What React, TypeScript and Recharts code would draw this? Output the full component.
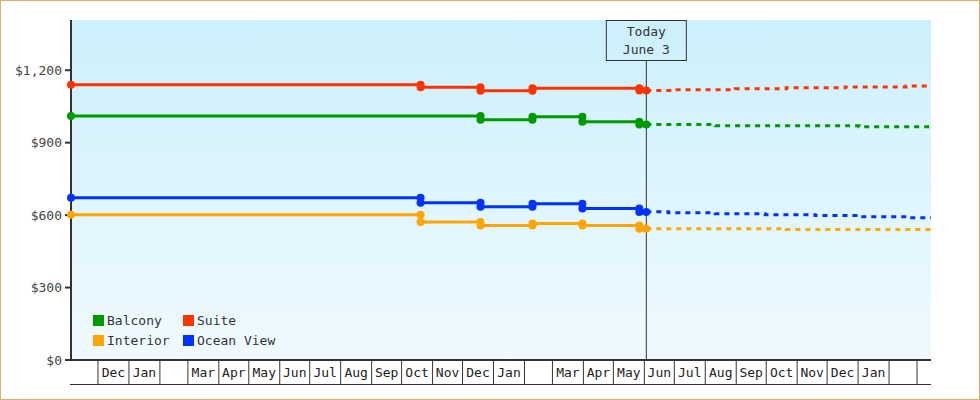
import React from 'react';
import {
  ComposedChart,
  Line,
  XAxis,
  YAxis,
  CartesianGrid,
  ReferenceLine
} from 'recharts';

document.body.style.margin = '0';

const FONT = '"DejaVu Sans Mono", monospace';

// day number from an ISO date
const d = (s: string) => Date.parse(s + 'T00:00:00Z') / 86400000;

const START = d('2012-11-04');
const END = d('2015-03-15');
const TODAY = d('2014-06-03');

// month boundaries shown as cells under the plot
const MONTH_STARTS: number[] = [];
for (let i = 0; i < 28; i++) MONTH_STARTS.push(Date.UTC(2012, 11 + i, 1) / 86400000);

const MONTH_LABELS = [
  'Dec', 'Jan', '', 'Mar', 'Apr', 'May', 'Jun', 'Jul', 'Aug', 'Sep', 'Oct', 'Nov',
  'Dec', 'Jan', '', 'Mar', 'Apr', 'May', 'Jun', 'Jul', 'Aug', 'Sep', 'Oct', 'Nov',
  'Dec', 'Jan', ''
];
const MID_TICKS = MONTH_LABELS.map((_, i) => (MONTH_STARTS[i] + MONTH_STARTS[i + 1]) / 2);

const Y_TICKS = [0, 300, 600, 900, 1200];

// price changes: [date, new price]
const SUITE_PAST: [string, number][] = [
  ['2012-11-04', 1140], ['2013-10-20', 1130], ['2013-12-19', 1115], ['2014-02-09', 1125], ['2014-05-27', 1116]
];
const BALCONY_PAST: [string, number][] = [
  ['2012-11-04', 1010], ['2013-12-19', 995], ['2014-02-09', 1007], ['2014-03-31', 987], ['2014-05-27', 975]
];
const OCEAN_PAST: [string, number][] = [
  ['2012-11-04', 672], ['2013-10-20', 651], ['2013-12-19', 635], ['2014-02-09', 647], ['2014-03-31', 627], ['2014-05-27', 613]
];
const INTERIOR_PAST: [string, number][] = [
  ['2012-11-04', 602], ['2013-10-20', 571], ['2013-12-19', 557], ['2014-02-09', 565], ['2014-03-31', 557], ['2014-05-27', 544]
];

const SUITE_FORECAST: [string, number][] = [
  ['2014-06-03', 1116], ['2014-07-02', 1119], ['2014-08-31', 1123], ['2014-10-21', 1127], ['2014-12-19', 1131], ['2015-02-18', 1135]
];
const BALCONY_FORECAST: [string, number][] = [
  ['2014-06-03', 975], ['2014-08-11', 970], ['2015-01-02', 966]
];
const OCEAN_FORECAST: [string, number][] = [
  ['2014-06-03', 614], ['2014-06-25', 610], ['2014-08-11', 606], ['2014-09-30', 602], ['2014-11-19', 598], ['2015-01-02', 593], ['2015-02-19', 589]
];
const INTERIOR_FORECAST: [string, number][] = [
  ['2014-06-03', 544], ['2014-10-21', 540]
];

const pastPoints = (changes: [string, number][]) => {
  const pts: { day: number; v: number }[] = [];
  changes.forEach(([date, v], i) => {
    if (i > 0) pts.push({ day: d(date), v: changes[i - 1][1] });
    pts.push({ day: d(date), v });
  });
  pts.push({ day: TODAY, v: changes[changes.length - 1][1] });
  return pts;
};

const forecastPoints = (changes: [string, number][]) => {
  const pts = changes.map(([date, v]) => ({ day: d(date), v }));
  pts.push({ day: END, v: changes[changes.length - 1][1] });
  return pts;
};

const SERIES = [
  { name: 'Suite', color: '#ff3300', past: SUITE_PAST, forecast: SUITE_FORECAST },
  { name: 'Balcony', color: '#009900', past: BALCONY_PAST, forecast: BALCONY_FORECAST },
  { name: 'Ocean View', color: '#0033ff', past: OCEAN_PAST, forecast: OCEAN_FORECAST },
  { name: 'Interior', color: '#ffa500', past: INTERIOR_PAST, forecast: INTERIOR_FORECAST }
];

const LEGEND_ROWS = [
  [{ name: 'Balcony', color: '#009900' }, { name: 'Suite', color: '#ff3300' }],
  [{ name: 'Interior', color: '#ffa500' }, { name: 'Ocean View', color: '#0033ff' }]
];

const MonthTick = (props: any) => {
  const { x, y, payload } = props;
  const bi = MONTH_STARTS.indexOf(payload.value);
  if (bi >= 0) {
    return <line x1={x} x2={x} y1={y + 1} y2={y + 25} stroke="#333" strokeWidth={1} />;
  }
  const li = MID_TICKS.indexOf(payload.value);
  return (
    <text x={x} y={y + 17} textAnchor="middle" fontFamily={FONT} fontSize={13} fill="#222">
      {MONTH_LABELS[li]}
    </text>
  );
};

const TodayLabel = (props: any) => {
  const { x, y } = props.viewBox;
  return (
    <g>
      <rect x={x - 40} y={y + 0.5} width={80} height={40} fill="url(#plotBg)" stroke="#333" strokeWidth={1} />
      <text x={x} y={y + 16} textAnchor="middle" fontFamily={FONT} fontSize={13} fill="#333">Today</text>
      <text x={x} y={y + 34} textAnchor="middle" fontFamily={FONT} fontSize={13} fill="#333">June 3</text>
    </g>
  );
};

const fmt = (v: number) => '$' + v.toLocaleString('en-US');

export default function App() {
  const ticks = [...MONTH_STARTS, ...MID_TICKS];
  return (
    <div style={{ position: 'relative', width: 980, height: 400, background: '#fff' }}>
      <ComposedChart width={980} height={400} margin={{ top: 20, right: 49, bottom: 15, left: 0 }}>
        <defs>
          <linearGradient id="plotBg" gradientUnits="userSpaceOnUse" x1="0" y1="20" x2="0" y2="360">
            <stop offset="0%" stopColor="#ccf0fc" />
            <stop offset="100%" stopColor="#f0faff" />
          </linearGradient>
        </defs>
        <CartesianGrid horizontal={false} vertical={false} fill="url(#plotBg)" />
        <XAxis
          dataKey="day"
          type="number"
          domain={[START, END]}
          ticks={ticks}
          interval={0}
          tick={<MonthTick />}
          tickLine={false}
          tickSize={0}
          tickMargin={0}
          height={25}
          axisLine={{ stroke: '#333', strokeWidth: 2 }}
        />
        <YAxis
          type="number"
          domain={[0, 1408]}
          ticks={Y_TICKS}
          width={71}
          tickFormatter={fmt}
          tickSize={6}
          tickMargin={3}
          tick={{ fontFamily: FONT, fontSize: 13, fill: '#444' }}
          tickLine={{ stroke: '#333', strokeWidth: 2 }}
          axisLine={{ stroke: '#333', strokeWidth: 2 }}
        />
        <ReferenceLine x={TODAY} stroke="#333" strokeWidth={1} label={<TodayLabel />} />
        {SERIES.map((s) => (
          <Line
            key={s.name + '-past'}
            data={pastPoints(s.past)}
            dataKey="v"
            type="linear"
            stroke={s.color}
            strokeWidth={3}
            dot={{ r: 4, fill: s.color, stroke: s.color, strokeWidth: 0, clipDot: false }}
            activeDot={false}
            isAnimationActive={false}
          />
        ))}
        {SERIES.map((s) => (
          <Line
            key={s.name + '-forecast'}
            data={forecastPoints(s.forecast)}
            dataKey="v"
            type="stepAfter"
            stroke={s.color}
            strokeWidth={3}
            strokeDasharray="5 5"
            dot={false}
            activeDot={false}
            isAnimationActive={false}
          />
        ))}
      </ComposedChart>
      <div style={{ position: 'absolute', left: 70, top: 384, width: 861, height: 1, background: '#333' }} />
      <div style={{ position: 'absolute', left: 93, top: 310, fontFamily: FONT, fontSize: 13, color: '#333' }}>
        {LEGEND_ROWS.map((row, ri) => (
          <div key={ri} style={{ display: 'flex', height: 20, alignItems: 'center' }}>
            {row.map((item, ci) => (
              <div key={item.name} style={{ display: 'flex', alignItems: 'center', width: ci === 0 ? 90 : 'auto' }}>
                <span style={{ display: 'inline-block', width: 11, height: 11, background: item.color, marginRight: 3 }} />
                <span>{item.name}</span>
              </div>
            ))}
          </div>
        ))}
      </div>
      <div style={{ position: 'absolute', inset: 0, border: '1px solid #e8aa66', boxSizing: 'border-box', pointerEvents: 'none' }} />
    </div>
  );
}
